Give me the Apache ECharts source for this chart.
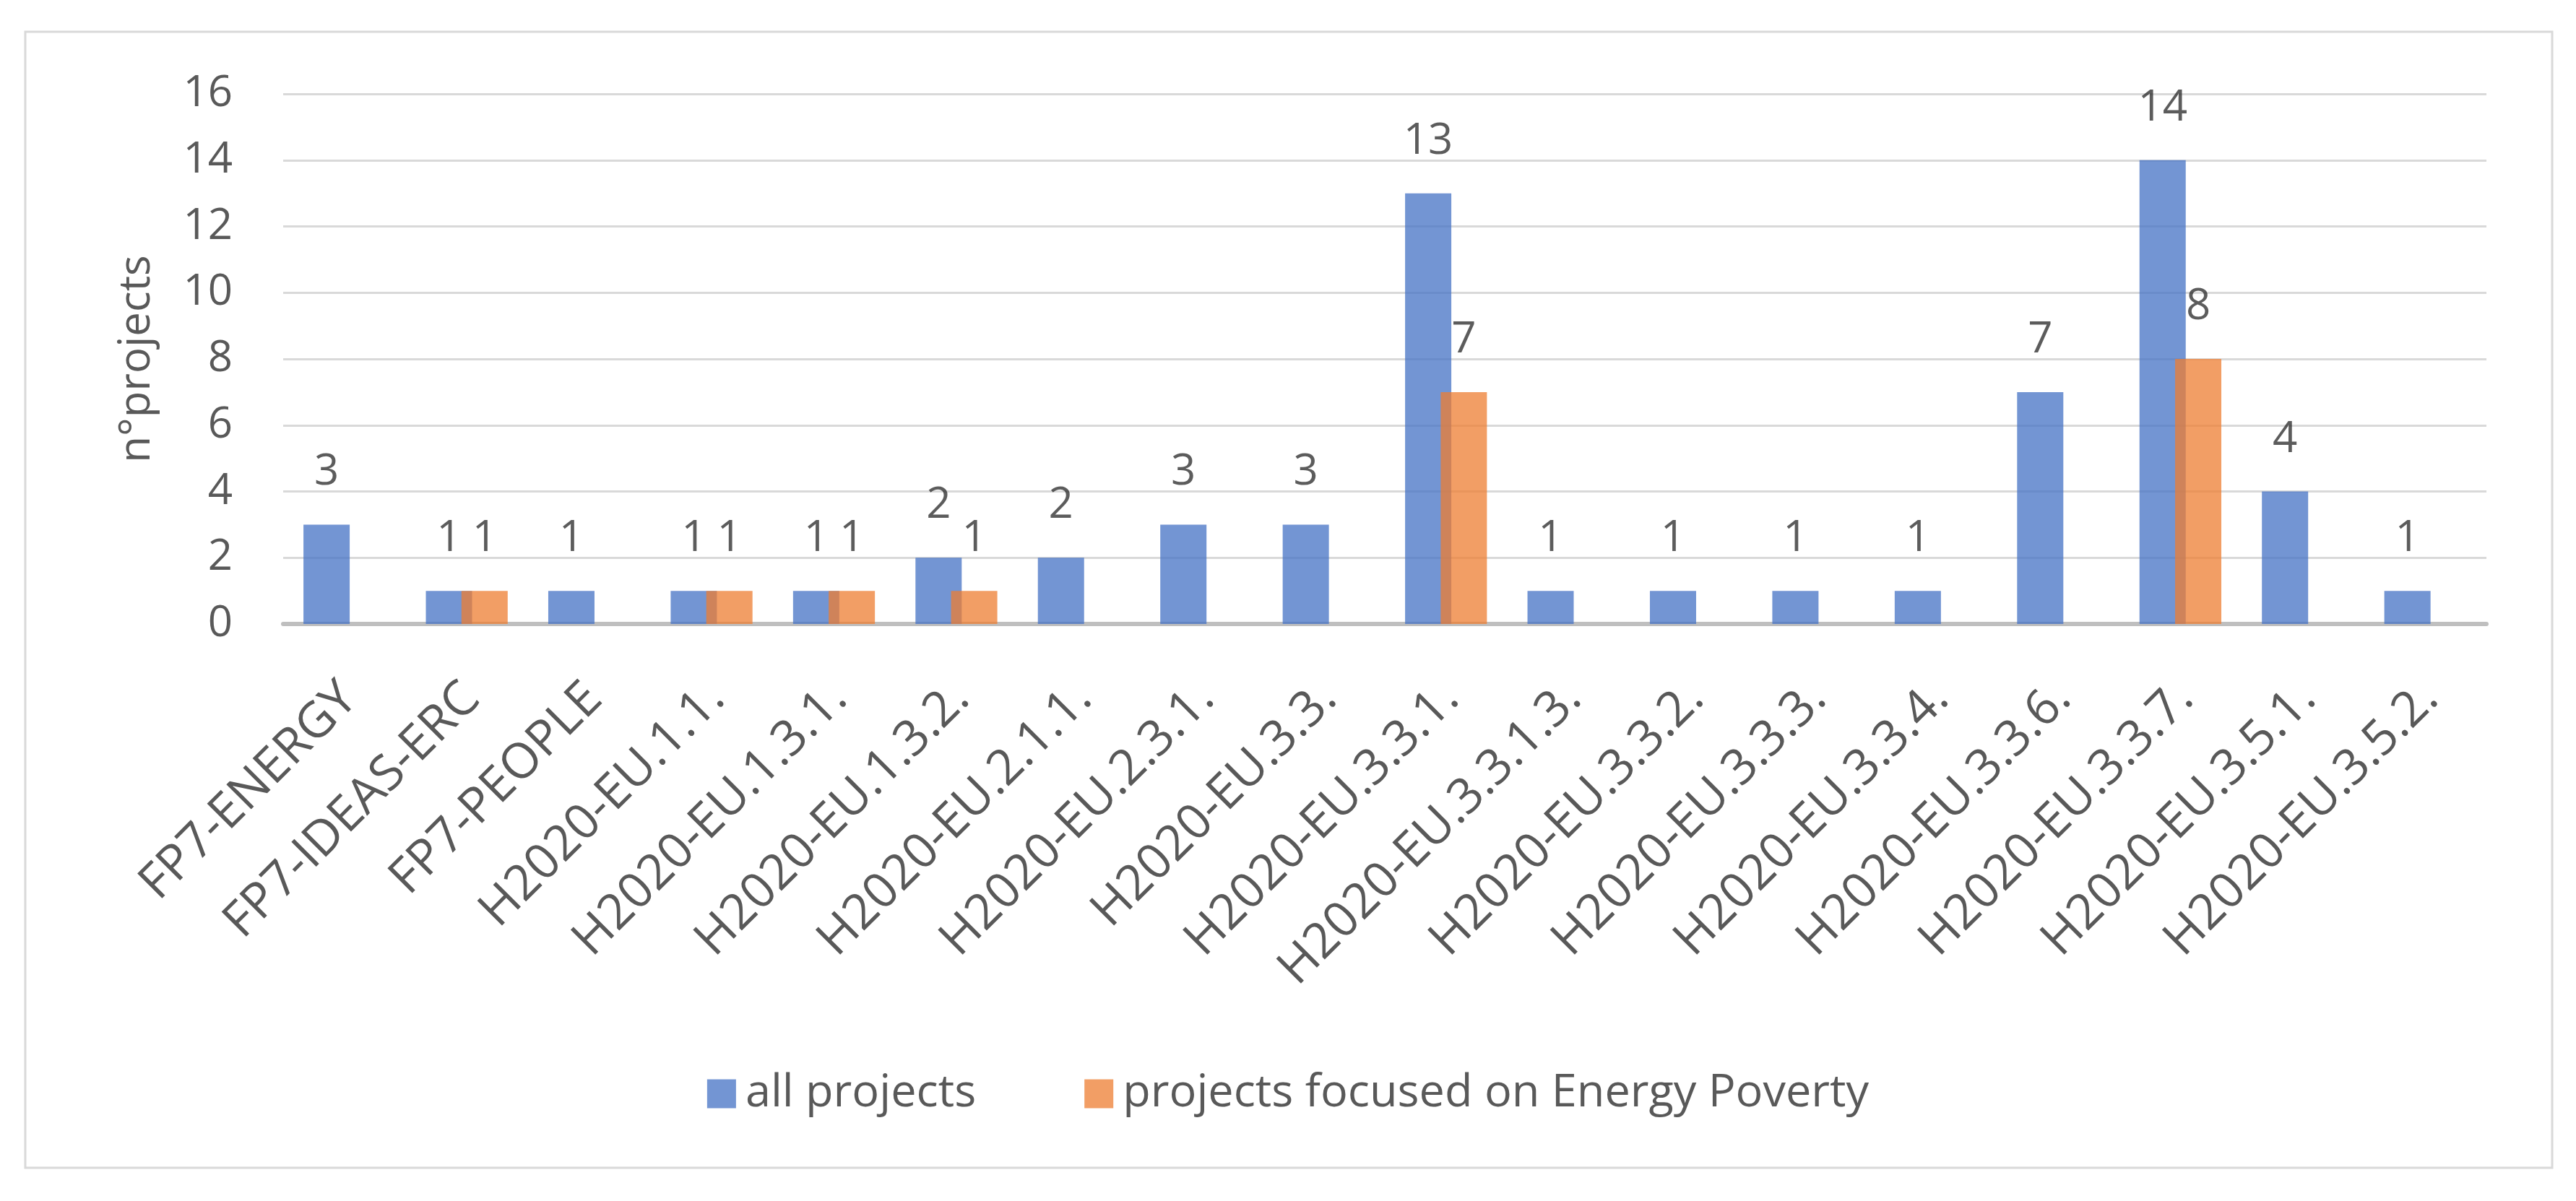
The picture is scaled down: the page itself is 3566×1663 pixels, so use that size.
<!DOCTYPE html>
<html>
<head>
<meta charset="utf-8">
<script src="https://cdn.jsdelivr.net/npm/echarts@6/dist/echarts.min.js"></script>
<style>
html,body{margin:0;padding:0;background:#fff;}
#chart{width:3566px;height:1663px;}
</style>
</head>
<body>
<div id="chart"></div>
<script>
const categories = ["FP7-ENERGY","FP7-IDEAS-ERC","FP7-PEOPLE","H2020-EU.1.1.","H2020-EU.1.3.1.","H2020-EU.1.3.2.","H2020-EU.2.1.1.","H2020-EU.2.3.1.","H2020-EU.3.3.","H2020-EU.3.3.1.","H2020-EU.3.3.1.3.","H2020-EU.3.3.2.","H2020-EU.3.3.3.","H2020-EU.3.3.4.","H2020-EU.3.3.6.","H2020-EU.3.3.7.","H2020-EU.3.5.1.","H2020-EU.3.5.2."];
const allProjects = [3,1,1,1,1,2,2,3,3,13,1,1,1,1,7,14,4,1];
const energyPoverty = [0,1,0,1,1,1,0,0,0,7,0,0,0,0,0,8,0,0];
const yTicks = [0,2,4,6,8,10,12,14,16];

const FONT = '"Open Sans", "Noto Sans", sans-serif';
const chart = echarts.init(document.getElementById('chart'), null, {renderer:'canvas'});
const option = {
  backgroundColor:'#ffffff',
  animation:false,
  textStyle:{fontFamily:FONT},
  graphic:[{
    type:'rect', shape:{x:35,y:44,width:3498,height:1573},
    style:{fill:'none',stroke:'#d9d9d9',lineWidth:3}, silent:true, z:-1
  }],
  legend:{
    data:['all projects','projects focused on Energy Poverty'],
    left:'center', top:1478,
    itemWidth:40, itemHeight:40, itemGap:150,
    icon:'rect',
    textStyle:{fontSize:63,color:'#595959',fontFamily:FONT,padding:[0,0,0,8]}
  },
  grid:{left:392,right:124,top:130,bottom:799,containLabel:false},
  xAxis:{
    type:'category', data:categories,
    axisLine:{lineStyle:{color:'#bfbfbf',width:6}},
    axisTick:{show:false},
    axisLabel:{interval:0,rotate:45,fontSize:68,color:'#595959',margin:52,padding:[0,24,0,0],verticalAlign:'top',fontFamily:FONT}
  },
  yAxis:{
    type:'value', min:yTicks[0], max:yTicks[yTicks.length-1], interval:2,
    name:'n°projects', nameLocation:'middle', nameRotate:90, nameGap:172,
    nameTextStyle:{fontSize:60,color:'#595959',fontFamily:FONT},
    axisLine:{show:false}, axisTick:{show:false},
    axisLabel:{fontSize:60,color:'#595959',margin:70,fontFamily:FONT},
    splitLine:{lineStyle:{color:'#d9d9d9',width:3}}
  },
  series:[
    {
      name:'all projects', type:'bar', data:allProjects,
      barWidth:64, barGap:'-23%', barCategoryGap:'33%',
      itemStyle:{color:'#4472C4',opacity:0.75},
      label:{show:true,position:'top',distance:42,fontSize:60,color:'#262626',fontFamily:FONT}
    },
    {
      name:'projects focused on Energy Poverty', type:'bar', data:energyPoverty,
      barWidth:64,
      itemStyle:{color:'#ED7D31',opacity:0.75},
      label:{show:true,position:'top',distance:42,fontSize:60,color:'#262626',fontFamily:FONT,
        formatter:p=>p.value===0?'':String(p.value)}
    }
  ]
};
chart.setOption(option);
</script>
</body>
</html>
